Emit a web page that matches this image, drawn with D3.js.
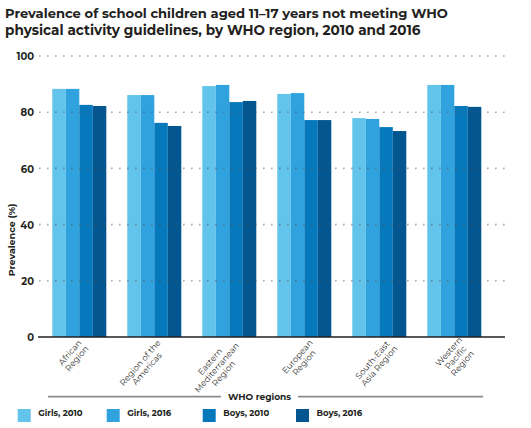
<!DOCTYPE html>
<html><head><meta charset="utf-8">
<script src="https://cdn.jsdelivr.net/npm/d3@7"></script>
<style>body{margin:0;background:#fff}svg{display:block}</style>
</head><body>
<svg id="c" width="531" height="428"></svg>
<script>
const regions = [
  ["African", "Region"],
  ["Region of the", "Americas"],
  ["Eastern", "Mediterranean", "Region"],
  ["European", "Region"],
  ["South-East", "Asia Region"],
  ["Western", "Pacific", "Region"]
];
const regionKeys = ["African Region","Region of the Americas","Eastern Mediterranean Region","European Region","South-East Asia Region","Western Pacific Region"];
const seriesNames = ["Girls, 2010","Girls, 2016","Boys, 2010","Boys, 2016"];
const girls2010 = [88.3, 86.1, 89.3, 86.5, 77.9, 89.7];
const girls2016 = [88.3, 86.1, 89.7, 86.8, 77.6, 89.7];
const boys2010  = [82.6, 76.2, 83.6, 77.2, 74.7, 82.2];
const boys2016  = [82.2, 75.1, 84.0, 77.2, 73.3, 81.9];
const yTicks = [0, 20, 40, 60, 80, 100];
const colors = ["#62c4ea", "#30a3de", "#0679bd", "#035690"];

const seriesValues = [girls2010, girls2016, boys2010, boys2016];
const svg = d3.select("#c");
const FONT = "Montserrat, 'Open Sans', 'Liberation Sans', Arial, sans-serif";

const y = d3.scaleLinear().domain([0, 100]).range([337, 56]);
const x0 = d3.scaleBand().domain(regionKeys).range([41.8, 491.8]).paddingInner(0.28).paddingOuter(0.14);
const x1 = d3.scaleBand().domain(seriesNames).range([0, x0.bandwidth()]);
const color = d3.scaleOrdinal().domain(seriesNames).range(colors);

// Title
const title = svg.append("g").attr("font-family", FONT).attr("font-weight", 700).attr("fill", "#231f20");
const tl = ["Prevalence of school children aged 11\u201317 years not meeting WHO",
            "physical activity guidelines, by WHO region, 2010 and 2016"];
const tlW = [443, 416];
tl.forEach((t, i) => {
  const el = title.append("text").attr("x", 5).attr("y", 17.5 + i * 17).attr("font-size", 13).text(t);
  const w = el.node().getComputedTextLength();
  el.attr("font-size", 13 * tlW[i] / w);
});

// Bars
const groups = svg.append("g").selectAll("g").data(regionKeys).join("g")
  .attr("transform", d => `translate(${x0(d)},0)`);
groups.selectAll("rect").data((d, i) => seriesNames.map((s, j) => ({s, v: seriesValues[j][i]})))
  .join("rect")
  .attr("x", d => x1(d.s))
  .attr("width", x1.bandwidth())
  .attr("y", d => y(d.v))
  .attr("height", d => y(0) - y(d.v))
  .attr("fill", d => color(d.s));

// Grid lines (drawn over bars)
const grid = svg.append("g");
grid.selectAll("line").data(yTicks.filter(t => t > 0)).join("line")
  .attr("x1", 39).attr("x2", 505)
  .attr("y1", d => y(d)).attr("y2", d => y(d))
  .attr("stroke", "#555").attr("stroke-opacity", 0.5)
  .attr("stroke-width", 1.6).attr("stroke-dasharray", "1.6,6.4");
// Baseline
svg.append("line").attr("x1", 38).attr("x2", 505).attr("y1", y(0)).attr("y2", y(0))
  .attr("stroke", "#231f20").attr("stroke-width", 1.3);

// Y axis labels
const yAxis = d3.axisLeft(y).tickValues(yTicks).tickSize(0).tickPadding(0);
const ya = svg.append("g").attr("transform", "translate(34,0)").call(yAxis);
ya.select(".domain").remove();
ya.selectAll("text").attr("font-family", FONT).attr("font-weight", 700)
  .attr("font-size", 10).attr("fill", "#231f20").attr("dy", "0.36em");

// Y title
svg.append("text").attr("transform", "translate(15,240) rotate(-90)")
  .attr("text-anchor", "middle").attr("font-family", FONT).attr("font-weight", 700)
  .attr("font-size", 9.5).attr("fill", "#231f20").text("Prevalence (%)");

// X labels
const ANG = -49, LH = 9;
const xl = svg.append("g").attr("font-family", FONT).attr("font-size", 8.5).attr("fill", "#333");
const offs = [9, 13, 13, 15, 18, 18];
regionKeys.forEach((k, i) => {
  const lines = regions[i];
  const g = xl.append("g").attr("transform", `translate(${x0(k) + x0.bandwidth() / 2 + offs[i] - 5},344) rotate(${ANG})`);
  const texts = lines.map((l, j) => g.append("text").attr("text-anchor", "middle")
    .attr("y", (j - (lines.length - 1) / 2) * LH).attr("dy", "0.35em").text(l));
  const maxW = d3.max(texts, t => t.node().getComputedTextLength());
  texts.forEach(t => t.attr("x", -maxW / 2));
});

// WHO regions divider
const wr = svg.append("text").attr("x", 259.5).attr("y", 400).attr("text-anchor", "middle")
  .attr("font-family", FONT).attr("font-weight", 700).attr("font-size", 9).attr("fill", "#231f20")
  .text("WHO regions");
const ww = wr.node().getComputedTextLength();
svg.append("line").attr("x1", 48).attr("x2", 259.5 - ww / 2 - 7).attr("y1", 396.7).attr("y2", 396.7)
  .attr("stroke", "#8a8a8a").attr("stroke-width", 1.8);
svg.append("line").attr("x1", 259.5 + ww / 2 + 7).attr("x2", 483).attr("y1", 396.7).attr("y2", 396.7)
  .attr("stroke", "#8a8a8a").attr("stroke-width", 1.8);

// Legend
const legX = [17.7, 106.7, 202.7, 296];
const leg = svg.append("g").selectAll("g").data(seriesNames).join("g")
  .attr("transform", (d, i) => `translate(${legX[i]},409)`);
leg.append("rect").attr("width", 13).attr("height", 13).attr("fill", d => color(d));
leg.append("text").attr("x", 20.5).attr("y", 7).attr("font-family", FONT).attr("font-weight", 700)
  .attr("font-size", 8.5).attr("fill", "#231f20").text(d => d);
</script>
</body></html>
